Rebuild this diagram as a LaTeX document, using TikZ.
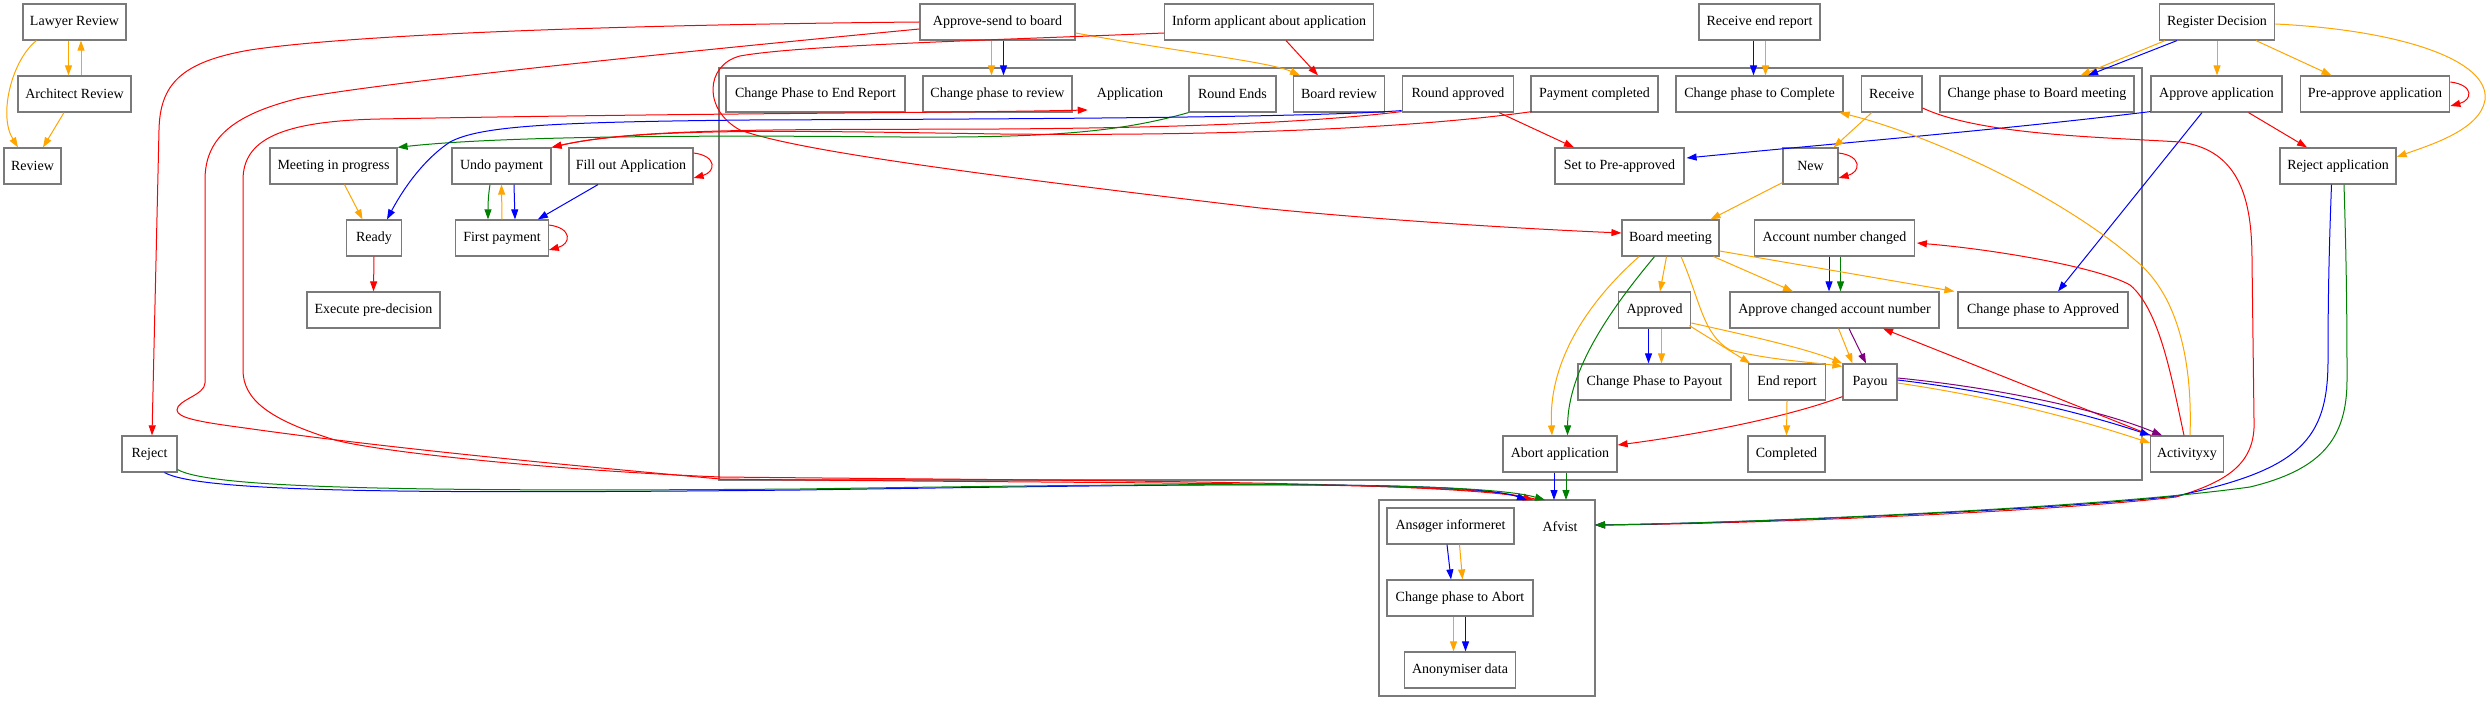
\documentclass[tikz,border=0pt]{standalone}
\usepackage{fontspec}
\setmainfont{Liberation Serif}
\usetikzlibrary{arrows.meta,calc}
\definecolor{cOrange}{RGB}{255,165,0}
\definecolor{cRed}{RGB}{255,0,0}
\definecolor{cBlue}{RGB}{0,0,255}
\definecolor{cGreen}{RGB}{0,128,0}
\definecolor{cPurple}{RGB}{128,0,128}
\definecolor{boxgray}{RGB}{122,122,122}
\newcommand\nodefont{\fontsize{14pt}{16pt}\selectfont}
\begin{document}
\begin{tikzpicture}[x=1pt,y=-1pt,
  nbox/.style={draw=boxgray,line width=1.2pt,minimum height=36pt,inner sep=0pt,font=\nodefont},
  ntext/.style={inner sep=0pt,font=\nodefont},
  cl/.style={draw=boxgray,line width=1.2pt},
  arr/.style={line width=1pt,-{Triangle[length=10pt,width=7pt]}},
  eo/.style={arr,color=cOrange}, er/.style={arr,color=cRed}, eb/.style={arr,color=cBlue},
  eg/.style={arr,color=cGreen}, ep/.style={arr,color=cPurple}]
\useasboundingbox (0,0) rectangle (2490,708);
% clusters
\draw[cl] (719,68) rectangle (2142,480);
\draw[cl] (1379,500) rectangle (1595,696);
% nodes
\node[nbox,minimum width=103pt] (LR) at (74.5,22) {Lawyer Review};
\node[nbox,minimum width=113pt] (AR) at (74.5,94) {Architect Review};
\node[nbox,minimum width=57pt] (RV) at (32.5,166) {Review};
\node[nbox,minimum width=127pt] (MIP) at (333.5,166) {Meeting in progress};
\node[nbox,minimum width=99pt] (UP) at (501.5,166) {Undo payment};
\node[nbox,minimum width=124pt] (FOA) at (631,166) {Fill out Application};
\node[nbox,minimum width=54.5pt] (RDY) at (374,238) {Ready};
\node[nbox,minimum width=92.5pt] (FP) at (502,238) {First payment};
\node[nbox,minimum width=133pt] (EPD) at (373.5,310) {Execute pre-decision};
\node[nbox,minimum width=55pt] (REJ) at (149.5,454) {Reject};
\node[nbox,minimum width=155pt] (ASB) at (997.5,22) {Approve-send to board};
\node[nbox,minimum width=208.5pt] (IAA) at (1269,22) {Inform applicant about application};
\node[nbox,minimum width=121pt] (RER) at (1759.5,22) {Receive end report};
\node[nbox,minimum width=115.5pt] (RD) at (2217,22) {Register Decision};
\node[nbox,minimum width=179pt] (CPER) at (815.5,94) {Change Phase to End Report};
\node[nbox,minimum width=149pt] (CPR) at (997.5,94) {Change phase to review};
\node[ntext] (APP) at (1130,94) {Application};
\node[nbox,minimum width=87pt] (RE) at (1232.5,94) {Round Ends};
\node[nbox,minimum width=90.5pt] (BR) at (1339,94) {Board review};
\node[nbox,minimum width=111.5pt] (RA) at (1458,94) {Round approved};
\node[nbox,minimum width=127pt] (PC) at (1594.5,94) {Payment completed};
\node[nbox,minimum width=167pt] (CPC) at (1759.5,94) {Change phase to Complete};
\node[nbox,minimum width=60.5pt] (RCV) at (1891.7,94) {Receive};
\node[nbox,minimum width=194pt] (CPBM) at (2037,94) {Change phase to Board meeting};
\node[nbox,minimum width=131pt] (AA) at (2216.5,94) {Approve application};
\node[nbox,minimum width=149.5pt] (PAA) at (2375,94) {Pre-approve application};
\node[nbox,minimum width=129pt] (SPA) at (1619.5,166) {Set to Pre-approved};
\node[nbox,minimum width=55pt] (NEW) at (1810.5,166) {New};
\node[nbox,minimum width=116pt] (RJA) at (2338,166) {Reject application};
\node[nbox,minimum width=97pt] (BM) at (1670.5,238) {Board meeting};
\node[nbox,minimum width=159.5pt] (ANC) at (1834.5,238) {Account number changed};
\node[nbox,minimum width=72.5pt] (APD) at (1654.5,310) {Approved};
\node[nbox,minimum width=209pt] (ACAN) at (1834.5,310) {Approve changed account number};
\node[nbox,minimum width=170pt] (CPA) at (2043,310) {Change phase to Approved};
\node[nbox,minimum width=153pt] (CPP) at (1654.5,382) {Change Phase to Payout};
\node[nbox,minimum width=76.5pt] (ER) at (1787,382) {End report};
\node[nbox,minimum width=54pt] (PAY) at (1870,382) {Payou};
\node[nbox,minimum width=114pt] (ABA) at (1560,454) {Abort application};
\node[nbox,minimum width=77pt] (CMP) at (1786.5,454) {Completed};
\node[nbox,minimum width=72.5pt] (AXY) at (2187,454) {Activityxy};
\node[nbox,minimum width=127pt] (AI) at (1450.5,526) {Ansøger informeret};
\node[ntext] (AFV) at (1560,527) {Afvist};
\node[nbox,minimum width=146pt] (CPAB) at (1460,598) {Change phase to Abort};
\node[nbox,minimum width=110.5pt] (AD) at (1460,670) {Anonymiser data};
% cluster entry points of Afvist
\coordinate (afv1) at (1527,500);
\coordinate (afv2) at (1533,500);
\coordinate (afv3) at (1539,500);
\coordinate (afv4) at (1545,500);
\coordinate (afvA1) at (1554,500);
\coordinate (afvA2) at (1566,500);
\coordinate (afvR) at (1595,525);
% left group
\draw[eo] ($(LR.south)+(-6,0)$) -- ($(AR.north)+(-6,0)$);
\draw[eo] ($(AR.north)+(6.5,0)$) -- ($(LR.south)+(6.5,0)$);
\draw[eo] ($(LR.south west)+(14,0)$) .. controls (12,60) and (-2,115) .. ($(RV.north)+(-14.5,0)$);
\draw[eo] ($(AR.south)+(-10.5,0)$) -- ($(RV.north)+(10.5,0)$);
% approve-send
\draw[eo] ($(ASB.south)+(-6,0)$) -- ($(CPR.north)+(-6,0)$);
\draw[eb] ($(ASB.south)+(6,0)$) -- ($(CPR.north)+(6,0)$);
\draw[eo] ($(ASB.east)+(0,11)$) .. controls (1180,52) and (1270,62) .. ($(BR.north)+(-39,0)$);
\draw[er] ($(IAA.south)+(17,0)$) -- ($(BR.north)+(-21,0)$);
\draw[er] (ASB.west) .. controls (600,25) and (350,35) .. (250,50) .. controls (180,62) and (160,85) .. (159,130) -- ($(REJ.north)+(2.5,0)$);
\draw[er] ($(ASB.west)+(0,7)$) .. controls (700,50) and (400,80) .. (300,98) .. controls (230,115) and (205,140) .. (205,180) -- (205,383) .. controls (205,395) and (177,400) .. (177,410) .. controls (177,418) and (200,422) .. (245,428) .. controls (400,450) and (600,468) .. (720,479) .. controls (1100,484) and (1470,481) .. (afv2);
\draw[er] (afv3) .. controls (1470,481) and (1100,481) .. (720,477) .. controls (550,470) and (380,452) .. (335,440) .. controls (270,420) and (243,400) .. (243,370) -- (243,180) .. controls (243,140) and (280,121) .. (380,119) .. controls (700,113) and (950,113) .. ($(APP.west)+(-9,16)$);
\draw[er] ($(IAA.west)+(0,11)$) .. controls (1000,40) and (800,45) .. (740,56) .. controls (705,65) and (703,110) .. (740,130) .. controls (800,152) and (1000,177) .. (1260,208) .. controls (1400,222) and (1550,230) .. ($(BM.west)+(0,-5)$);
% top row to left group
\draw[eg] (RE.south west) .. controls (1120,132) and (1050,138) .. (900,137) .. controls (700,135) and (500,136) .. (MIP.north east);
\draw[eb] ($(RA.south west)+(0,-2)$) .. controls (1300,118) and (1000,119) .. (750,120) .. controls (550,122) and (480,126) .. (450,142) .. controls (420,162) and (400,195) .. ($(RDY.north)+(13,0)$);
\draw[er] ($(PC.south west)+(1.5,-1)$) .. controls (1400,130) and (1200,136) .. (1000,134) .. controls (800,131) and (640,127) .. (UP.north east);
\draw[er] ($(RA.south west)+(0,-1)$) .. controls (1300,124) and (1150,128) .. (1000,129) .. controls (800,130) and (640,127) .. (UP.north east);
\draw[er] ($(RA.south)+(41,0)$) -- ($(SPA.north)+(-45.5,0)$);
% register decision
\draw[eo] ($(RD.south)+(-52,0)$) -- ($(CPBM.north)+(43.5,0)$);
\draw[eb] ($(RD.south)+(-40,0)$) -- ($(CPBM.north)+(51,0)$);
\draw[eo] (RD.south) -- ($(AA.north)+(0.5,0)$);
\draw[eo] ($(RD.south)+(39,0)$) -- ($(PAA.north)+(-43.5,0)$);
\draw[eo] ($(RD.east)+(0,2)$) .. controls (2400,30) and (2490,60) .. (2485,100) .. controls (2480,130) and (2430,145) .. ($(RJA.east)+(0,-9)$);
\draw[er] ($(PAA.east)+(0,-12)$) .. controls +(24,3) and +(22,-6) .. ($(PAA.east)+(0,12)$);
\draw[er] ($(AA.south)+(32,0)$) -- ($(RJA.north)+(-31,0)$);
\draw[eb] ($(AA.south)+(-14.5,0)$) -- ($(CPA.north)+(15,0)$);
\draw[eb] ($(AA.south west)+(0,-1)$) .. controls (2000,130) and (1850,142) .. ($(SPA.east)+(2,-8)$);
% receive end report, receive, new
\draw[eb] ($(RER.south)+(-6,0)$) -- ($(CPC.north)+(-6,0)$);
\draw[eo] ($(RER.south)+(6,0)$) -- ($(CPC.north)+(6,0)$);
\draw[eo] ($(RCV.south)+(-20,0)$) -- ($(NEW.north east)+(-5,0)$);
\draw[er] ($(NEW.east)+(0,-13)$) .. controls +(24,3) and +(22,-6) .. ($(NEW.east)+(0,12)$);
\draw[eo] ($(NEW.south west)+(0,-2)$) -- ($(BM.north)+(40,0)$);
\draw[er] ($(RCV.east)+(0,14)$) .. controls (1980,135) and (2100,137) .. (2180,142) .. controls (2240,150) and (2252,200) .. (2252,260) -- (2254,420) .. controls (2256,465) and (2225,482) .. (2176,497) .. controls (2050,512) and (1750,524) .. (afvR);
\draw[eb] ($(RJA.south)+(-6.5,0)$) .. controls (2329,250) and (2328,300) .. (2328,360) .. controls (2328,440) and (2300,470) .. (2176,496) .. controls (2050,510) and (1750,523) .. (afvR);
\draw[eg] ($(RJA.south)+(6,0)$) .. controls (2346,250) and (2347,300) .. (2347,380) .. controls (2347,440) and (2320,470) .. (2250,487) .. controls (2100,508) and (1750,523) .. (afvR);
% activityxy
\draw[eo] ($(AXY.north)+(3,0)$) .. controls (2192,380) and (2185,300) .. (2135,260) .. controls (2060,195) and (1930,135) .. ($(CPC.south east)+(-4,0)$);
\draw[er] ($(AXY.north)+(-3,0)$) .. controls (2172,380) and (2160,310) .. (2130,285) .. controls (2100,268) and (2000,250) .. ($(ANC.east)+(2,5)$);
\draw[er] ($(AXY.north west)+(1,0)$) -- ($(ACAN.south)+(48.5,0)$);
% payou
\draw[ep] ($(PAY.east)+(0,-4)$) .. controls (2000,388) and (2100,410) .. ($(AXY.north west)+(12,0)$);
\draw[eb] ($(PAY.east)+(0,-2)$) .. controls (2000,392) and (2090,415) .. (AXY.north west);
\draw[eo] ($(PAY.east)+(0,1)$) .. controls (2000,398) and (2080,420) .. ($(AXY.west)+(0,-11)$);
\draw[er] ($(PAY.south west)+(0,-4)$) .. controls (1780,420) and (1680,437) .. ($(ABA.east)+(0,-9)$);
\draw[eo] ($(ACAN.south)+(4,0)$) -- ($(PAY.north)+(-17.5,0)$);
\draw[ep] ($(ACAN.south)+(14.5,0)$) -- ($(PAY.north)+(-4,0)$);
\draw[eb] ($(ANC.south)+(-5.5,0)$) -- ($(ACAN.north)+(-5.5,0)$);
\draw[eg] ($(ANC.south)+(6,0)$) -- ($(ACAN.north)+(6,0)$);
% board meeting
\draw[eo] ($(BM.south)+(-4,0)$) -- ($(APD.north)+(5.5,0)$);
\draw[eo] ($(BM.south east)+(-6,0)$) -- ($(ACAN.north)+(-41.5,0)$);
\draw[eo] ($(BM.east)+(0,13)$) -- ($(CPA.north west)+(-3,0)$);
\draw[eo] ($(BM.south)+(-31.5,0)$) .. controls (1590,300) and (1548,360) .. ($(ABA.north)+(-8,0)$);
\draw[eg] ($(BM.south)+(-16,0)$) .. controls (1610,310) and (1568,370) .. ($(ABA.north)+(7.5,0)$);
\draw[eo] ($(BM.south)+(10.5,0)$) .. controls (1700,300) and (1703,335) .. (1730,350) .. controls (1770,360) and (1810,362) .. ($(PAY.north west)+(0,3)$);
% approved
\draw[eb] ($(APD.south)+(-6,0)$) -- ($(CPP.north)+(-6,0)$);
\draw[eo] ($(APD.south)+(7,0)$) -- ($(CPP.north)+(7,0)$);
\draw[eo] ($(APD.south east)+(-2,-3)$) -- ($(ER.north west)+(2,0)$);
\draw[eo] ($(APD.east)+(0,13)$) .. controls (1760,338) and (1810,350) .. (PAY.north west);
\draw[eo] (ER.south) -- (CMP.north);
\draw[eb] ($(ABA.south)+(-6,0)$) -- (afvA1);
\draw[eg] ($(ABA.south)+(6,0)$) -- (afvA2);
% lower cluster
\draw[eb] ($(AI.south)+(-3.5,0)$) -- ($(CPAB.north)+(-9,0)$);
\draw[eo] ($(AI.south)+(9,0)$) -- ($(CPAB.north)+(2.5,0)$);
\draw[eo] ($(CPAB.south)+(-6.5,0)$) -- ($(AD.north)+(-6.5,0)$);
\draw[eb] ($(CPAB.south)+(5.5,0)$) -- ($(AD.north)+(5.5,0)$);
% left inner group
\draw[eo] ($(MIP.south)+(11,0)$) -- ($(RDY.north)+(-11.5,0)$);
\draw[eg] ($(UP.south)+(-11.5,0)$) .. controls +(-2,12) and +(0,-12) .. ($(FP.north)+(-14,0)$);
\draw[eo] (FP.north) -- (UP.south);
\draw[eb] ($(UP.south)+(12.5,0)$) -- ($(FP.north)+(13,0)$);
\draw[eb] ($(FOA.south)+(-33,0)$) -- ($(FP.north east)+(-11,0)$);
\draw[er] ($(FOA.east)+(0,-13)$) .. controls +(24,3) and +(22,-6) .. ($(FOA.east)+(0,12)$);
\draw[er] ($(FP.east)+(0,-13)$) .. controls +(24,3) and +(22,-6) .. ($(FP.east)+(0,12)$);
\draw[er] (RDY.south) -- (EPD.north);
% reject
\draw[eb] ($(REJ.south)+(15,0)$) .. controls (200,492) and (400,494) .. (800,490) .. controls (1200,484) and (1470,480) .. (afv1);
\draw[eg] ($(REJ.south east)+(0,-3)$) .. controls (210,488) and (400,492) .. (800,489) .. controls (1200,483) and (1480,481) .. (afv4);
\end{tikzpicture}
\end{document}
